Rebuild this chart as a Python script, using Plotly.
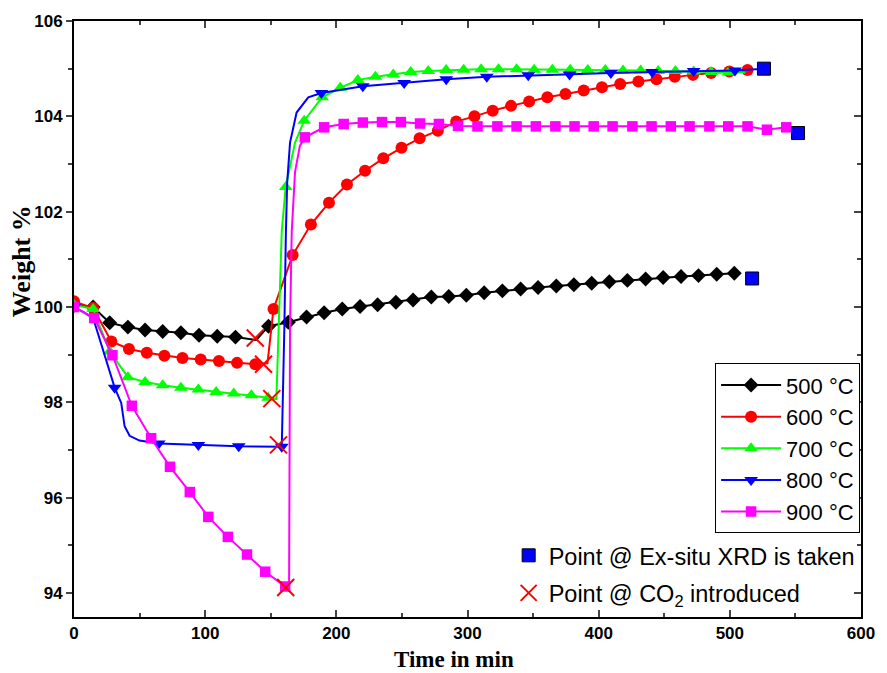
import plotly.graph_objects as go

# ---------------- data ----------------
# 500 C : marker points and extra curve knots
t_500 = [0, 14.6, 27.2, 41.1, 54.2, 67.6, 81.5, 95.3, 109.2, 123.1, 148.3, 163.4, 177.3, 190.7,
         204.5, 218.1, 231.5, 245.4, 258.5, 272.4, 285.7, 299.1, 312.7, 326.6, 340.5, 353.8,
         367.7, 381.1, 394.7, 408.1, 421.9, 435.8, 449.2, 462.8, 476.1, 490.0, 503.4]
w_500 = [100.05, 100.0, 99.67, 99.58, 99.52, 99.49, 99.46, 99.41, 99.39, 99.37, 99.6, 99.68, 99.79, 99.88,
         99.96, 100.01, 100.05, 100.1, 100.15, 100.21, 100.22, 100.25, 100.3, 100.34, 100.38, 100.41,
         100.44, 100.47, 100.5, 100.53, 100.56, 100.59, 100.62, 100.64, 100.66, 100.69, 100.71]
t_500_k = [139.0]
w_500_k = [99.31]

# 600 C
t_600 = [0, 14.6, 28.5, 41.9, 55.5, 68.9, 82.7, 96.6, 110.5, 124.3, 138.2, 152.1, 166.7, 180.6,
         194.4, 208.1, 221.9, 235.8, 249.7, 263.5, 277.4, 291.4, 305.3, 319.2, 333.2, 347.0,
         360.9, 374.7, 388.6, 402.5, 416.4, 430.3, 444.1, 458.0, 471.9, 485.7, 499.6, 513.5]
w_600 = [100.12, 99.98, 99.28, 99.12, 99.04, 98.98, 98.93, 98.9, 98.87, 98.83, 98.8, 99.96, 101.09, 101.73,
         102.19, 102.57, 102.86, 103.12, 103.34, 103.54, 103.7, 103.89, 104.0, 104.12, 104.22, 104.31,
         104.4, 104.47, 104.54, 104.61, 104.68, 104.73, 104.78, 104.83, 104.87, 104.91, 104.94, 104.97]
t_600_k = [147.5]
w_600_k = [98.82]

# 700 C
t_700 = [0, 14.6, 27.2, 41.1, 54.2, 67.6, 81.5, 94.8, 108.4, 121.8, 135.2, 148.0, 161.4, 175.5,
         189.2, 203.0, 216.4, 229.8, 243.4, 256.7, 270.1, 283.7, 297.1, 310.4, 323.6, 337.4, 350.8,
         364.7, 378.3, 391.7, 405.0, 418.6, 432.0, 445.4, 458.5, 472.4, 485.7, 498.8]
w_700 = [100.05, 99.96, 99.07, 98.53, 98.43, 98.36, 98.31, 98.27, 98.22, 98.19, 98.15, 98.1, 102.52, 103.91,
         104.4, 104.6, 104.76, 104.83, 104.88, 104.93, 104.95, 104.97, 104.98, 104.99, 104.99, 104.99, 104.98,
         104.98, 104.98, 104.97, 104.97, 104.96, 104.96, 104.95, 104.95, 104.94, 104.93, 104.92]
t_700_k = [154.3, 158.4, 168.5, 512.0]
w_700_k = [98.07, 101.6, 103.45, 104.92]

# 800 C
t_800 = [0, 31.0, 64.6, 94.8, 125.6, 158.4, 188.6, 220.2, 251.7, 283.8, 314.7, 346.3, 377.8,
         409.3, 440.8, 472.4, 503.9]
w_800 = [100.0, 98.31, 97.14, 97.11, 97.08, 97.07, 104.49, 104.63, 104.7, 104.78, 104.83, 104.86, 104.88,
         104.91, 104.93, 104.95, 104.96]
t_800_k = [7.0, 14.6, 36.0, 38.6, 42.4, 49.9, 159.2, 160.4, 161.5, 162.5, 164.7, 169.7, 178.6, 526.0]
w_800_k = [99.9, 99.77, 97.99, 97.5, 97.3, 97.2, 98.0, 99.6, 101.5, 102.6, 103.45, 104.08, 104.4, 105.0]

# 900 C
t_900 = [0, 15.4, 29.3, 44.1, 58.8, 73.2, 88.3, 102.4, 117.3, 131.9, 145.8, 161.0, 176.0, 190.7,
         205.6, 220.2, 234.8, 249.2, 263.8, 278.2, 292.8, 307.6, 322.8, 337.4, 352.1, 367.0, 381.6,
         396.2, 410.6, 425.7, 440.3, 455.0, 469.3, 484.4, 498.8, 513.5, 528.3, 543.0]
w_900 = [100.0, 99.77, 98.99, 97.93, 97.25, 96.65, 96.12, 95.6, 95.18, 94.81, 94.45, 94.14, 103.56, 103.77,
         103.84, 103.87, 103.88, 103.88, 103.85, 103.84, 103.8, 103.79, 103.79, 103.79, 103.79, 103.79, 103.79,
         103.79, 103.79, 103.79, 103.79, 103.79, 103.79, 103.79, 103.79, 103.79, 103.72, 103.77]
t_900_k = [164.0, 164.7, 166.0, 168.5, 172.2, 556.8]
w_900_k = [94.2, 99.6, 101.58, 102.83, 103.38, 103.77]

# special points
t_xrd = [517, 526, 552]
w_xrd = [100.6, 105.0, 103.65]
t_co2 = [138.2, 144.5, 150.8, 155.9, 161.4]
w_co2 = [99.35, 98.8, 98.08, 97.11, 94.12]

names = ["500 °C", "600 °C", "700 °C", "800 °C", "900 °C"]
x_ticks = [0, 100, 200, 300, 400, 500, 600]
y_ticks = [94, 96, 98, 100, 102, 104, 106]
# ---------------------------------------

series = [
    (t_500, w_500, t_500_k, w_500_k, "#000000", "diamond", 11.5),
    (t_600, w_600, t_600_k, w_600_k, "#FF0000", "circle", 12),
    (t_700, w_700, t_700_k, w_700_k, "#00FF00", "triangle-up", 12),
    (t_800, w_800, t_800_k, w_800_k, "#0000FF", "triangle-down", 12),
    (t_900, w_900, t_900_k, w_900_k, "#FF00FF", "square", 10.5),
]

fig = go.Figure()
for (t, w, tk, wk, col, sym, sz), nm in zip(series, names):
    pts = sorted(list(zip(t, w)) + list(zip(tk, wk)))
    fig.add_trace(go.Scatter(x=[p[0] for p in pts], y=[p[1] for p in pts], mode="lines",
                             line=dict(color=col, width=2), showlegend=False, hoverinfo="skip"))
    fig.add_trace(go.Scatter(x=t, y=w, mode="markers", showlegend=False,
                             marker=dict(color=col, symbol=sym, size=sz)))
for (t, w, tk, wk, col, sym, sz), nm in zip(series, names):
    fig.add_trace(go.Scatter(x=[None], y=[None], mode="lines+markers", name=nm,
                             line=dict(color=col, width=2),
                             marker=dict(color=col, symbol=sym, size=sz), legend="legend"))

fig.add_trace(go.Scatter(x=t_xrd, y=w_xrd, mode="markers", name="Point @ Ex-situ XRD is taken",
                         marker=dict(color="#0000FF", symbol="square", size=13,
                                     line=dict(color="black", width=1)),
                         yaxis="y2", legend="legend2", legendgroup="xrd"))
fig.add_trace(go.Scatter(x=t_co2, y=w_co2, mode="markers", name="Point @ CO<sub>2</sub> introduced",
                         marker=dict(color="#FF0000", symbol="x-thin-open", size=17,
                                     line=dict(color="#FF0000", width=2)),
                         yaxis="y2", legend="legend2", legendgroup="co2"))

tickfont = dict(family="Liberation Sans, Arial", size=17, color="black")
yr = [93.5, 106]
fig.update_layout(
    width=887, height=673,
    margin=dict(l=74, r=20, t=18, b=56),
    plot_bgcolor="white", paper_bgcolor="white",
    xaxis=dict(range=[0, 600], tickvals=x_ticks, ticktext=[f"<b>{v}</b>" for v in x_ticks],
               ticks="inside", ticklen=7, tickwidth=2,
               showline=True, linewidth=2, linecolor="black", mirror="ticks", showgrid=False,
               zeroline=False, tickfont=tickfont,
               minor=dict(dtick=50, ticks="inside", ticklen=4, tickwidth=2, showgrid=False)),
    yaxis=dict(range=yr, tickvals=y_ticks, ticktext=[f"<b>{v}</b>" for v in y_ticks],
               ticks="outside", ticklen=6, tickwidth=2,
               showline=True, linewidth=2, linecolor="black", showgrid=False, zeroline=False,
               tickfont=tickfont,
               minor=dict(dtick=1, ticks="outside", ticklen=4, tickwidth=2, showgrid=False)),
    yaxis2=dict(range=yr, dtick=2, tick0=94, overlaying="y", side="right", ticks="inside",
                ticklen=7, tickwidth=2, showline=True, linewidth=2, linecolor="black",
                showticklabels=False, showgrid=False, zeroline=False,
                minor=dict(dtick=1, ticks="inside", ticklen=4, tickwidth=2, showgrid=False)),
    legend=dict(x=0.8146, y=0.4257, xanchor="left", yanchor="top", bgcolor="white",
                bordercolor="black", borderwidth=1, itemwidth=60,
                font=dict(family="Liberation Sans, Arial", size=22, color="black")),
    legend2=dict(x=0.5523, y=0.140, xanchor="left", yanchor="top", bgcolor="rgba(0,0,0,0)",
                 borderwidth=0, tracegroupgap=4,
                 font=dict(family="Liberation Sans, Arial", size=23.5, color="black")),
    showlegend=True,
    annotations=[
        dict(text="<b>Weight %</b>", xref="paper", yref="paper", x=-0.0668, y=0.5977,
             textangle=-90, showarrow=False, xanchor="center", yanchor="middle",
             font=dict(family="Liberation Serif, Times New Roman", size=26, color="black")),
        dict(text="<b>Time in min</b>", xref="paper", yref="paper", x=0.483, y=-0.0718,
             showarrow=False, xanchor="center", yanchor="middle",
             font=dict(family="Liberation Serif, Times New Roman", size=23, color="black")),
    ],
)
fig.write_html("out.html")
